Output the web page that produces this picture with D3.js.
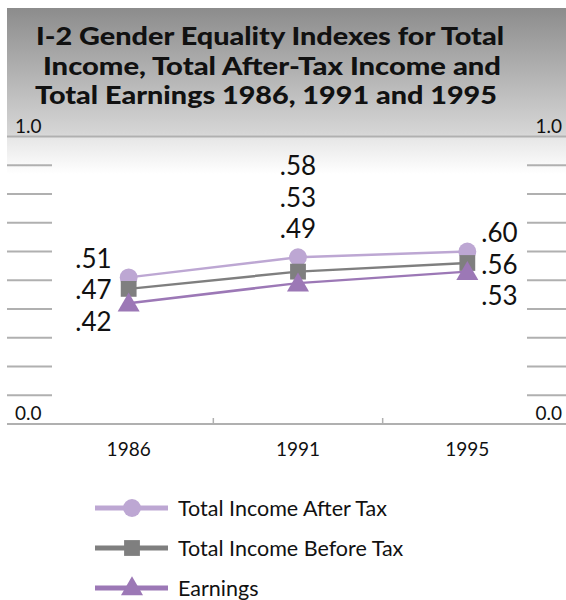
<!DOCTYPE html>
<html>
<head>
<meta charset="utf-8">
<script src="https://cdn.jsdelivr.net/npm/d3@7"></script>
<style>
  body { margin: 0; background: #fff; }
  svg { display: block; font-family: Lato, "Open Sans", sans-serif; }
</style>
</head>
<body>
<script>
// data
var years = ['1986', '1991', '1995'];
var afterTax = [0.51, 0.58, 0.60];
var beforeTax = [0.47, 0.53, 0.56];
var earnings = [0.42, 0.49, 0.53];
var seriesNames = ['Total Income After Tax', 'Total Income Before Tax', 'Earnings'];
var yTicks = [0, 0.1, 0.2, 0.3, 0.4, 0.5, 0.6, 0.7, 0.8, 0.9, 1.0];
var titleLines = ['I-2 Gender Equality Indexes for Total',
                  'Income, Total After-Tax Income and',
                  'Total Earnings 1986, 1991 and 1995'];

var w = 566, h = 600;
var left = 7, right = 566;

var svg = d3.select('body').append('svg')
  .attr('width', w)
  .attr('height', h);

// gray gradient behind the title
var grad = svg.append('defs').append('linearGradient')
  .attr('id', 'bg')
  .attr('x1', 0).attr('y1', 0).attr('x2', 0).attr('y2', 1);
grad.append('stop').attr('offset', 0).attr('stop-color', '#8c8c8c');
grad.append('stop').attr('offset', 0.76).attr('stop-color', '#d6d6d6');
grad.append('stop').attr('offset', 0.78).attr('stop-color', '#e6e6e6');
grad.append('stop').attr('offset', 1).attr('stop-color', '#ffffff');

svg.append('rect')
  .attr('x', left).attr('y', 8)
  .attr('width', right - left).attr('height', 166)
  .attr('fill', 'url(#bg)');

// title lines stretched to the width of the original lettering
var titleBox = [[270, 468], [272, 458], [266, 462]];
svg.selectAll('text.title')
  .data(titleLines)
  .enter()
  .append('text')
    .attr('class', 'title')
    .attr('x', function(d, i) { return titleBox[i][0]; })
    .attr('y', function(d, i) { return 45 + i * 29.5; })
    .attr('text-anchor', 'middle')
    .attr('font-size', 24.5)
    .attr('font-weight', 900)
    .attr('textLength', function(d, i) { return titleBox[i][1]; })
    .attr('lengthAdjust', 'spacingAndGlyphs')
    .attr('fill', '#111')
    .text(function(d) { return d; });

var x = d3.scaleBand().domain(years).range([44, 552]);
var y = d3.scaleLinear().domain([0, 1]).range([424, 136.5]);

// tick stubs on both sides, full lines at 0 and 1
yTicks.forEach(function(t) {
  var full = (t === 0 || t === 1);
  if (full) {
    svg.append('line')
      .attr('x1', left).attr('x2', right)
      .attr('y1', y(t)).attr('y2', y(t))
      .attr('stroke', '#b0b0b0').attr('stroke-width', 2);
  } else {
    svg.append('line')
      .attr('x1', left).attr('x2', 52)
      .attr('y1', y(t)).attr('y2', y(t))
      .attr('stroke', '#b0b0b0').attr('stroke-width', 2);
    svg.append('line')
      .attr('x1', 527).attr('x2', right)
      .attr('y1', y(t)).attr('y2', y(t))
      .attr('stroke', '#b0b0b0').attr('stroke-width', 2);
  }
});

[1, 0].forEach(function(t) {
  svg.append('text')
    .attr('x', 15).attr('y', y(t) - 4)
    .attr('font-size', 19).attr('fill', '#111')
    .text(d3.format('.1f')(t));
  svg.append('text')
    .attr('x', 562).attr('y', y(t) - 4)
    .attr('text-anchor', 'end')
    .attr('font-size', 19).attr('fill', '#111')
    .text(d3.format('.1f')(t));
});

// x axis category separators and labels
years.slice(1).forEach(function(d) {
  svg.append('line')
    .attr('x1', x(d)).attr('x2', x(d))
    .attr('y1', y(0) - 6).attr('y2', y(0))
    .attr('stroke', '#b0b0b0').attr('stroke-width', 1.5);
});
svg.selectAll('text.year')
  .data(years)
  .enter()
  .append('text')
    .attr('class', 'year')
    .attr('x', function(d) { return x(d) + x.bandwidth() / 2; })
    .attr('y', 456)
    .attr('text-anchor', 'middle')
    .attr('font-size', 19)
    .attr('fill', '#111')
    .text(function(d) { return d; });

var series = [
  { name: seriesNames[0], values: afterTax, color: '#bda7d3', symbol: d3.symbolCircle, size: 250 },
  { name: seriesNames[1], values: beforeTax, color: '#7f7f7f', symbol: d3.symbolSquare, size: 250 },
  { name: seriesNames[2], values: earnings, color: '#9c78b6', symbol: d3.symbolTriangle, size: 210 }
];

var cx = function(i) { return x(years[i]) + x.bandwidth() / 2; };
var line = d3.line()
  .x(function(d, i) { return cx(i); })
  .y(function(d) { return y(d); });

series.forEach(function(s) {
  svg.append('path')
    .attr('d', line(s.values))
    .attr('fill', 'none')
    .attr('stroke', s.color)
    .attr('stroke-width', 2.5);
});
series.forEach(function(s) {
  s.values.forEach(function(v, i) {
    svg.append('path')
      .attr('d', d3.symbol().type(s.symbol).size(s.size)())
      .attr('transform', 'translate(' + cx(i) + ',' + (y(v) + (s.symbol === d3.symbolTriangle ? 2 : 0)) + ')')
      .attr('fill', s.color);
  });
});

// value labels, stacked per year
var fmt = function(v) { return d3.format('.2f')(v).replace(/^0/, ''); };
years.forEach(function(yr, i) {
  var vals = [afterTax[i], beforeTax[i], earnings[i]];
  var lx, anchor, base;
  if (i === 0) { lx = cx(i) - 17; anchor = 'end'; base = y(vals[1]) + 11 - 32; }
  else if (i === 1) { lx = cx(i); anchor = 'middle'; base = y(vals[0]) - 19 - 63; }
  else { lx = cx(i) + 14; anchor = 'start'; base = y(vals[1]) + 10 - 31; }
  vals.forEach(function(v, j) {
    svg.append('text')
      .attr('x', lx)
      .attr('y', base + j * 31.5)
      .attr('text-anchor', anchor)
      .attr('font-size', 26)
      .attr('fill', '#111')
      .text(fmt(v));
  });
});

// legend
var legend = svg.selectAll('g.legend')
  .data(series)
  .enter()
  .append('g')
    .attr('class', 'legend')
    .attr('transform', function(d, i) { return 'translate(0,' + (508 + i * 40) + ')'; });
legend.append('line')
  .attr('x1', 95).attr('x2', 168)
  .attr('stroke', function(d) { return d.color; })
  .attr('stroke-width', 5);
legend.append('path')
  .attr('d', function(d) { return d3.symbol().type(d.symbol).size(d.size)(); })
  .attr('transform', function(d) { return 'translate(132,' + (d.symbol === d3.symbolTriangle ? 1 : 0) + ')'; })
  .attr('fill', function(d) { return d.color; });
legend.append('text')
  .attr('x', 178)
  .attr('y', 8)
  .attr('font-size', 21.5)
  .attr('fill', '#111')
  .text(function(d) { return d.name; });
</script>
</body>
</html>
